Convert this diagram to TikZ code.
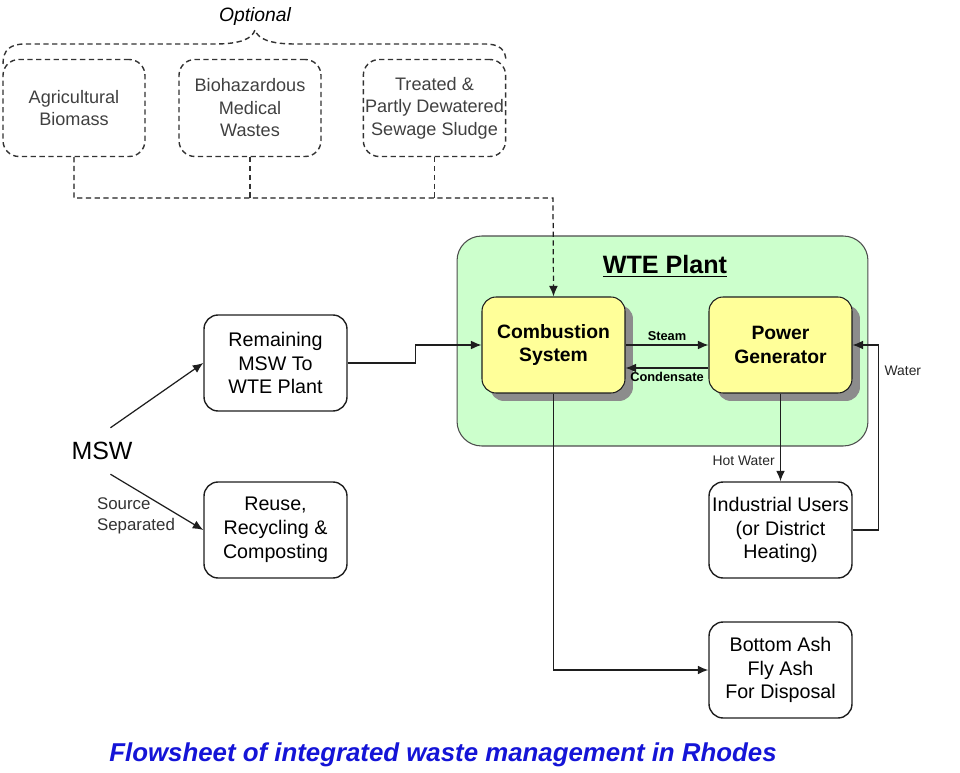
\documentclass[tikz,border=0pt]{standalone}
\usepackage{fontspec}
\setmainfont{Liberation Sans}
\usetikzlibrary{arrows.meta,shadows}
\definecolor{plantgreen}{RGB}{204,255,204}
\definecolor{unityellow}{RGB}{255,255,153}
\definecolor{capblue}{RGB}{20,20,215}
\definecolor{lineclr}{RGB}{30,30,30}
\tikzset{
  optbox/.style={
    draw=black!80, line width=0.8pt, dash pattern=on 3pt off 2pt,
    rounded corners=9pt, align=center, text=black!75, inner sep=1pt,
    minimum width=2.84cm, minimum height=1.94cm,
    font=\fontsize{10.3}{12.8}\selectfont
  },
  mainbox/.style={
    draw=lineclr, line width=0.8pt, fill=white,
    rounded corners=8pt, align=center, inner sep=1pt,
    minimum width=2.86cm, minimum height=1.92cm,
    font=\fontsize{11.2}{13.6}\selectfont
  },
  unitbox/.style={
    draw=lineclr, line width=0.6pt, fill=unityellow,
    rounded corners=8pt, align=center, inner sep=1pt,
    minimum width=2.86cm, minimum height=1.92cm,
    font=\bfseries\fontsize{11}{13.6}\selectfont,
    drop shadow={shadow xshift=0.16cm, shadow yshift=-0.16cm,
                 fill=black!45, opacity=1}
  },
  plantbox/.style={
    draw=black!70, line width=0.6pt, fill=plantgreen,
    rounded corners=14pt,
    minimum width=8.22cm, minimum height=4.2cm
  },
  flow/.style={
    draw=lineclr, line width=0.7pt,
    -{Latex[length=6pt,width=5pt]}
  },
  optflow/.style={flow, dash pattern=on 3pt off 2pt},
  optline/.style={draw=black!80, line width=0.8pt, dash pattern=on 3pt off 2pt},
  smalllbl/.style={font=\fontsize{7.9}{9.5}\selectfont, text=black!85, inner sep=1pt},
  steamlbl/.style={font=\bfseries\fontsize{7.3}{9}\selectfont, inner sep=2pt}
}
\begin{document}
\begin{tikzpicture}[x=0.02cm, y=-0.02cm]
  \useasboundingbox (0,0) rectangle (960,773);
  %
  % ==================================================================
  % Optional feeds (dashed boxes under the brace)
  % ==================================================================
  \node[font=\itshape\fontsize{11}{13}\selectfont] (opttitle) at (255,17) {Optional};
  \draw[optline] (3,64) .. controls (3,50) and (10,44) .. (25,44)
    -- (215,44) .. controls (240,44) and (252,39) .. (255,30)
    .. controls (258,39) and (270,44) .. (295,44)
    -- (485,44) .. controls (500,44) and (506,50) .. (506,62);
  \node[optbox] (agri)   at (74,108)  {Agricultural\\Biomass};
  \node[optbox] (bio)    at (250,108) {Biohazardous\\Medical\\Wastes};
  \node[optbox] (sludge) at (434.5,108) {Treated \&\\Partly Dewatered\\Sewage Sludge};
  %
  % ==================================================================
  % WTE plant (green container with the two units)
  % ==================================================================
  \node[plantbox] (plant) at (662.5,341) {};
  \node[font=\bfseries\fontsize{14.3}{16}\selectfont] (planttitle) at (665,266)
    {\underline{WTE Plant}};
  \node[unitbox] (combustion) at (553.5,345) {Combustion\\System};
  \node[unitbox] (powergen)   at (780.5,345) {Power\\Generator};
  %
  % ==================================================================
  % MSW split and the output boxes
  % ==================================================================
  \node[font=\fontsize{14.2}{16}\selectfont, inner sep=8pt] (msw) at (102,451) {MSW};
  \node[mainbox] (remain) at (275.5,363) {Remaining\\MSW To\\WTE Plant};
  \node[mainbox] (reuse)  at (275.5,530) {Reuse,\\Recycling \&\\Composting};
  \node[mainbox] (users)  at (780.5,530) {Industrial Users\\(or District\\Heating)};
  \node[mainbox] (ash)    at (780.5,670) {Bottom Ash\\Fly Ash\\For Disposal};
  \node[font=\fontsize{9.6}{12}\selectfont, text=black!80, align=left] (srcsep)
    at (136,516) {Source\\Separated};
  %
  % ==================================================================
  % Connectors
  % ==================================================================
  \coordinate (optbus) at (553,198);
  \draw[optline] (bio.south) -- (bio.south |- optbus);
  \draw[optline] (sludge.south) -- (sludge.south |- optbus);
  \draw[optflow] (agri.south) |- (optbus) -- (combustion.north);
  \draw[flow] (msw.70) -- (remain.west);
  \draw[flow] (msw.-70) -- (reuse.west);
  \draw[flow] (remain.east) -- ++(68,0) |- (combustion.west);
  \draw[flow] (combustion.east) -- (powergen.west)
    node[steamlbl, midway, above] {Steam};
  \draw[flow] ([yshift=-0.46cm]powergen.west) -- ([yshift=-0.46cm]combustion.east)
    node[steamlbl, midway, below] {Condensate};
  \draw[flow] (powergen.south) -- (users.north)
    node[smalllbl, pos=0.77, left=2pt] {Hot Water};
  \draw[flow] (users.east) -- ++(26,0) |- (powergen.east)
    node[smalllbl, pos=0.43, right=2pt] {Water};
  \draw[flow] (combustion.south) |- (ash.west);
  %
  % ==================================================================
  % Caption
  % ==================================================================
  \node[font=\bfseries\itshape\fontsize{14.7}{17}\selectfont, text=capblue] (caption)
    at (443,755) {Flowsheet of integrated waste management in Rhodes};
\end{tikzpicture}
\end{document}
